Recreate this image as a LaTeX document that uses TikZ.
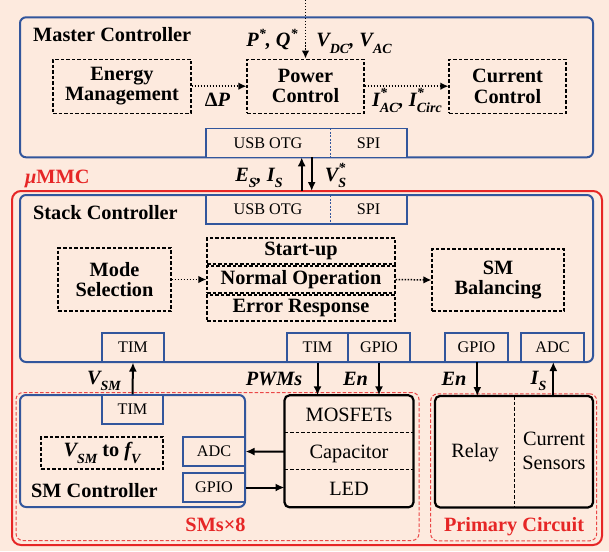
\documentclass[tikz,border=0pt]{standalone}
\usepackage{fontspec}
\setmainfont{Liberation Serif}
\usetikzlibrary{arrows.meta}
\definecolor{bg}{RGB}{253,234,222}
\definecolor{bluec}{RGB}{50,86,156}
\definecolor{redc}{RGB}{230,38,38}
\newcommand\lsub[1]{\raisebox{-0.33em}{\fontsize{14}{14}\selectfont #1}}
\newcommand\lsup[1]{\raisebox{0.4em}{\fontsize{14}{14}\selectfont #1}}
\newcommand\lsps[2]{\rlap{\lsup{#1}}\lsub{#2}}
\tikzset{
  blueframe/.style={draw=bluec, line width=2pt, rounded corners=6pt, inner sep=0pt},
  iface/.style={draw=bluec, line width=1.1pt, fill=bg, inner sep=0pt, font=\fontsize{16.2}{17}\selectfont},
  ifacetext/.style={inner sep=0pt, font=\fontsize{16.2}{17}\selectfont},
  dbox/.style={draw=black, line width=1.2pt, dash pattern=on 3.5pt off 2pt, align=center, inner sep=0pt,
    font=\bfseries\fontsize{20.3}{20.5}\selectfont},
  blk/.style={draw=black, line width=2.2pt, rounded corners=5pt, inner sep=0pt},
  reddash/.style={draw=redc!85, line width=1pt, dash pattern=on 3.5pt off 2pt, rounded corners=7pt, inner sep=0pt},
  title/.style={font=\bfseries\fontsize{20.3}{21}\selectfont, anchor=base west, inner sep=0pt},
  redtitle/.style={font=\bfseries\fontsize{20.3}{21}\selectfont, text=redc, anchor=base, inner sep=0pt},
  mlab/.style={font=\bfseries\itshape\fontsize{20.3}{21}\selectfont, anchor=base, inner sep=0pt},
  plain/.style={font=\fontsize{20.3}{24}\selectfont, align=center, inner sep=0pt, anchor=base},
  dotarrow/.style={line width=1.5pt, dash pattern=on 1.5pt off 1.5pt, -{Latex[length=8pt,width=7.5pt]}},
  solarrow/.style={line width=2pt, -{Latex[length=9pt,width=8pt]}},
}
\begin{document}
\begin{tikzpicture}[x=1pt,y=-1pt]
\fill[bg] (0,0) rectangle (609,551);
\useasboundingbox (0,0) rectangle (609,551);

% ---------- Master controller ----------
\node[blueframe, minimum width=573pt, minimum height=140pt] (master) at (306.5,87.3) {};
\node[title] (mtitle) at (33,41.7) {Master Controller};
\node[dbox, minimum width=138pt, minimum height=54pt] (em) at (122,86.2) {Energy\\Management};
\node[dbox, minimum width=117pt, minimum height=54pt] (pc) at (305.5,86.2) {Power\\Control};
\node[dbox, minimum width=117pt, minimum height=54pt] (cc) at (507.5,86.2) {Current\\Control};
\coordinate (topin) at (305.5,0);
\draw[dotarrow] (topin) -- (pc.north);
\draw[dotarrow] (em.east) -- (pc.west);
\draw[dotarrow] (pc.east) -- (cc.west);
\node[mlab] (lpq) at (272,47) {P\lsup{*}, Q\lsup{*}};
\node[mlab] (lvv) at (354,47) {V\lsub{DC}, V\lsub{AC}};
\node[mlab] (ldp) at (217.5,106) {{\upshape Δ}P};
\node[mlab] (lia) at (407,106) {I\lsps{*}{AC}, I\lsps{*}{Circ}};
\node[iface, minimum width=201pt, minimum height=29pt] (musb) at (306.5,142.8) {};
\draw[bluec, line width=0.9pt, dash pattern=on 2pt off 1.5pt] (330,128.3) -- (330,157.3);
\node[ifacetext] (musbt) at (268,142.8) {USB OTG};
\node[ifacetext] (mspit) at (368.5,142.8) {SPI};

% ---------- uMMC outer ----------
\node[draw=redc, line width=2pt, rounded corners=9pt, minimum width=590pt, minimum height=354pt, inner sep=0pt] (mmc) at (307,368) {};
\node[font=\bfseries\fontsize{20.3}{21}\selectfont, text=redc, anchor=base west, inner sep=0pt] (mmct) at (25,183) {\itshape μ\upshape MMC};

\coordinate (upS) at (301.7,191);
\coordinate (upM) at (301.7,157.3);
\coordinate (dnM) at (311.7,157.3);
\coordinate (dnS) at (311.7,191);
\draw[solarrow] (upS) -- (upM);
\draw[solarrow] (dnM) -- (dnS);
\node[mlab] (les) at (259,181) {E\lsub{S}, I\lsub{S}};
\node[mlab] (lvs) at (335.5,181) {V\lsps{*}{S}};

% ---------- Stack controller ----------
\node[blueframe, minimum width=573pt, minimum height=167pt] (stack) at (306.5,278.5) {};
\node[title] (stitle) at (33,219) {Stack Controller};
\node[iface, minimum width=201pt, minimum height=29pt] (susb) at (306.5,209.5) {};
\draw[bluec, line width=0.9pt, dash pattern=on 2pt off 1.5pt] (330,195) -- (330,224);
\node[ifacetext] (susbt) at (268,209.5) {USB OTG};
\node[ifacetext] (sspit) at (368.5,209.5) {SPI};

\node[dbox, minimum width=113pt, minimum height=63pt] (ms) at (114.5,279.5) {Mode\\Selection};
\node[dbox, minimum width=188pt, minimum height=26pt] (su) at (301,251) {Start-up};
\node[dbox, minimum width=188pt, minimum height=27pt] (no) at (301,279.5) {Normal Operation};
\node[dbox, minimum width=188pt, minimum height=26pt] (er) at (301,308) {Error Response};
\node[dbox, minimum width=132pt, minimum height=62pt] (smb) at (498,280) {SM\\Balancing};
\draw[dotarrow] (ms.east) -- (no.west);
\draw[dotarrow] (no.east) -- (smb.west);

\node[iface, minimum width=62pt, minimum height=29pt] (tima) at (133,347.5) {TIM};
\node[iface, minimum width=61pt, minimum height=29pt] (timb) at (317.5,347.5) {TIM};
\node[iface, minimum width=62pt, minimum height=29pt] (gpiob) at (379,347.5) {GPIO};
\node[iface, minimum width=63pt, minimum height=29pt] (gpioc) at (476.5,347.5) {GPIO};
\node[iface, minimum width=63pt, minimum height=29pt] (adcc) at (552.5,347.5) {ADC};

% ---------- SMs x 8 ----------
\node[reddash, minimum width=403pt, minimum height=148pt] (sms) at (217.5,466.5) {};
\node[reddash, minimum width=166pt, minimum height=147pt] (prim) at (513.7,467.3) {};
\node[redtitle] (smst) at (215.5,531) {SMs×8};
\node[redtitle] (primt) at (514,531) {Primary Circuit};

\node[blueframe, minimum width=225pt, minimum height=112pt] (smc) at (132.5,451) {};
\node[iface, minimum width=61pt, minimum height=29pt] (tims) at (132.5,409.5) {TIM};
\node[dbox, minimum width=122pt, minimum height=32pt] (vf) at (102,453) {\itshape V\lsub{SM} \upshape to \itshape f\lsub{V}};
\node[iface, minimum width=62pt, minimum height=29pt] (adc) at (214,451.5) {ADC};
\node[iface, minimum width=62pt, minimum height=29pt] (gpio) at (214,487.5) {GPIO};
\node[title] (smct) at (31,497) {SM Controller};

\node[blk, minimum width=129pt, minimum height=112pt] (mos) at (349,451.3) {};
\draw[line width=1pt, dash pattern=on 3.5pt off 2pt] (284.5,432) -- (413.5,432);
\draw[line width=1pt, dash pattern=on 3.5pt off 2pt] (284.5,469) -- (413.5,469);
\node[plain] (most) at (349,421) {MOSFETs};
\node[plain] (capt) at (349,458) {Capacitor};
\node[plain] (ledt) at (349,495) {LED};
\coordinate (capL) at (284.5,451.7);
\coordinate (ledL) at (284.5,487.5);
\draw[solarrow] (capL) -- (adc.east);
\draw[solarrow] (gpio.east) -- (ledL);

\node[blk, minimum width=158pt, minimum height=111.5pt] (pbox) at (514,451.7) {};
\draw[line width=1pt, dash pattern=on 3.5pt off 2pt] (514.3,396) -- (514.3,507.3);
\node[plain] (relt) at (475,457) {Relay};
\node[plain] (cst) at (554,469) {Current\\Sensors};

% ---------- vertical signals ----------
\draw[solarrow] (tims.north) -- (tima.south);
\coordinate (pwmT) at (317.5,395.3);
\coordinate (enT) at (379,395.3);
\coordinate (en2T) at (477.3,396);
\coordinate (isT) at (553.3,396);
\coordinate (gpiocS) at (477.3,362);
\coordinate (adccS) at (553.3,362);
\draw[solarrow] (timb.south) -- (pwmT);
\draw[solarrow] (gpiob.south) -- (enT);
\draw[solarrow] (gpiocS) -- (en2T);
\draw[solarrow] (isT) -- (adccS);
\node[mlab] (lvsm) at (104,384) {V\lsub{SM}};
\node[mlab] (lpwm) at (274,385) {PWMs};
\node[mlab] (len) at (355.5,385) {En};
\node[mlab] (len2) at (454,385) {En};
\node[mlab] (lis) at (538.5,384) {I\lsub{S}};
\end{tikzpicture}
\end{document}
